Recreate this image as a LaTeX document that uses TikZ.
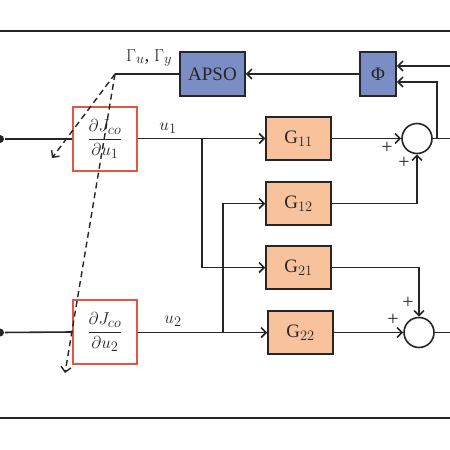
\documentclass[tikz,border=0pt]{standalone}
\usepackage{fontspec}
\setmainfont{Liberation Serif}
\usetikzlibrary{arrows.meta,calc}
\definecolor{ln}{HTML}{262626}
\definecolor{bluebox}{HTML}{7B8DC5}
\definecolor{orbox}{HTML}{F8C29C}
\definecolor{redb}{HTML}{E2573D}
\begin{document}
\begin{tikzpicture}[x=1pt,y=-1pt,
  line width=1.6pt, draw=ln,
  every node/.style={font=\fontsize{19}{22}\selectfont, text=ln},
  arr/.style={-{Straight Barb[length=5pt,width=10pt]}},
  bblock/.style={draw=ln, fill=bluebox, line width=1.5pt, minimum height=44pt, inner sep=0pt},
  gblock/.style={draw=ln, fill=orbox, line width=1.5pt, minimum width=65pt, minimum height=43pt, inner sep=0pt},
  rblock/.style={draw=redb, fill=white, line width=1.4pt, minimum width=64pt, minimum height=64pt, inner sep=0pt},
  sumc/.style={draw=ln, circle, fill=white, line width=1.6pt, minimum size=30pt, inner sep=0pt},
  dotn/.style={circle, fill=ln, minimum size=8pt, inner sep=0pt},
  plus/.style={font=\fontsize{20}{22}\selectfont, inner sep=0pt},
  dsh/.style={dashed, dash pattern=on 6pt off 4pt, line width=1.4pt, -{Straight Barb[length=5pt,width=10pt]}}
]
\useasboundingbox (0,0) rectangle (450,450);
% frame
\draw[line width=1.8pt] (0,31) -- (450,31);
\draw[line width=1.8pt] (0,418) -- (450,418);
% nodes
\node[bblock, minimum width=65pt] (apso) at (212.5,74) {APSO};
\node[bblock, minimum width=36pt] (phi) at (378,74) {Φ};
\node[rblock] (r1) at (105,139) {$\displaystyle\frac{\partial J_{co}}{\partial u_1}$};
\node[rblock] (r2) at (105,332) {$\displaystyle\frac{\partial J_{co}}{\partial u_2}$};
\node[gblock] (g11) at (298.5,138.5) {G$_{11}$};
\node[gblock] (g12) at (298.5,203.5) {G$_{12}$};
\node[gblock] (g21) at (298.5,267.5) {G$_{21}$};
\node[gblock] (g22) at (300.5,332.5) {G$_{22}$};
\node[sumc] (s1) at (417,138.5) {};
\node[sumc] (s2) at (419,332.5) {};
\node[dotn] (d1) at (0,139) {};
\node[dotn] (d2) at (0,332.5) {};
\coordinate (gam) at (115,74);
\coordinate (da) at (52,158);
\coordinate (db) at (65,373);
\coordinate (br1) at (202,139);
\coordinate (br2) at (223,332.5);
\coordinate (fb) at (437,138.5);
\coordinate (o1) at (450,138.5);
\coordinate (o2) at (450,332.5);
\coordinate (in1) at (450,66);
% connectors
\draw (d1) -- (r1.west);
\draw (d2) -- (r2.west);
\draw[arr] (r1.east |- g11.west) -- (g11.west);
\draw[arr] (br1) |- (g21.west);
\draw[arr] (r2.east |- g22.west) -- (g22.west);
\draw[arr] (br2) |- (g12.west);
\draw[arr] (g11.east) -- (s1.west);
\draw[arr] (g12.east) -| (s1.south);
\draw[arr] (g21.east) -| (s2.north);
\draw[arr] (g22.east) -- (s2.west);
\draw (s1.east) -- (o1);
\draw (s2.east) -- (o2);
\draw[arr] (fb) |- ([yshift=-8pt]phi.east);
\draw[arr] (in1) -- ([yshift=8pt]phi.east);
\draw[arr] (phi.west) -- (apso.east);
\draw (apso.west) -- (gam);
\draw[dsh] (gam) -- (da);
\draw[dsh] (gam) -- (db);
% labels
\node (lg) at (149,58) {$\Gamma_u$, $\Gamma_y$};
\node (lu1) at (168,128) {$u_1$};
\node (lu2) at (173,321) {$u_2$};
\node[plus] (p1) at (387,148) {+};
\node[plus] (p2) at (404,163) {+};
\node[plus] (p3) at (408,303) {+};
\node[plus] (p4) at (393,320) {+};
\end{tikzpicture}
\end{document}
